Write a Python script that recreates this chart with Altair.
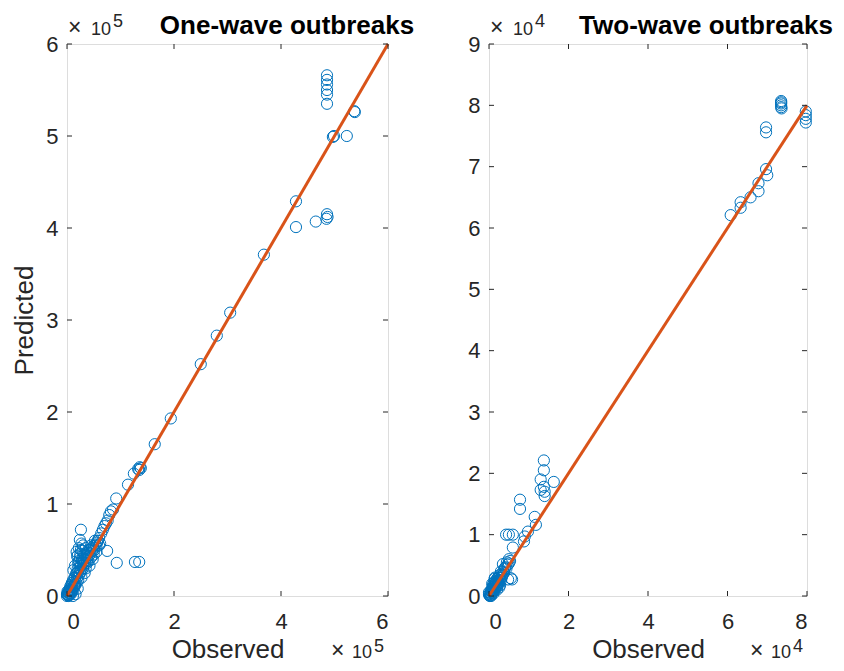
import altair as alt
import pandas as pd

# ---------------- data ----------------
# One-wave outbreaks, values in units of 1e5
one_obs = [4.86, 4.86, 4.86, 4.86, 4.86, 4.86, 5.37, 5.38, 4.97, 4.99, 5.23,
           4.28, 4.28, 4.65, 4.86, 4.87, 4.85, 3.68, 3.05, 2.80, 2.50, 1.94, 1.64,
           1.33, 1.36, 1.38, 1.35, 1.25, 1.14, 0.92, 0.86, 0.82, 0.79, 0.76, 0.73,
           0.70, 0.67, 0.64, 0.60, 0.57, 0.75, 0.93, 1.27, 1.35,
           0.26, 0.24, 0.26, 0.30, 0.35, 0.40, 0.32, 0.28, 0.22, 0.25, 0.30, 0.20,
           0.25, 0.18, 0.15, 0.22, 0.12, 0.10, 0.08, 0.05, 0.03, 0.02, 0.01, 0.00,
           0.04, 0.06, 0.14, 0.18, 0.35, 0.40, 0.45, 0.50, 0.45, 0.50, 0.55, 0.38,
           0.30, 0.33, 0.42, 0.48, 0.16, 0.20, 0.09, 0.27, 0.55, 0.60, 0.24, 0.20,
           0.15, 0.07, 0.12, 0.34, 0.38, 0.62, 0.52,
           0.02, 0.03, 0.05, 0.06, 0.08, 0.09, 0.10, 0.11, 0.13, 0.14, 0.16, 0.17,
           0.19, 0.20, 0.21, 0.23, 0.24, 0.26, 0.27, 0.29, 0.31, 0.32, 0.34, 0.36,
           0.37, 0.39, 0.41, 0.43, 0.44, 0.46, 0.47, 0.49, 0.51, 0.53, 0.56, 0.58,
           0.18, 0.22, 0.27, 0.19, 0.25, 0.15, 0.12, 0.29, 0.21, 0.01, 0.00, 0.03,
           0.11, 0.07]
one_pred = [5.66, 5.61, 5.56, 5.50, 5.45, 5.35, 5.27, 5.26, 4.99, 5.00, 5.00,
            4.29, 4.01, 4.07, 4.15, 4.12, 4.10, 3.71, 3.08, 2.83, 2.52, 1.93, 1.65,
            1.38, 1.40, 1.39, 1.37, 1.33, 1.21, 1.06, 0.94, 0.92, 0.88, 0.82, 0.79,
            0.76, 0.72, 0.68, 0.63, 0.60, 0.49, 0.36, 0.37, 0.37,
            0.72, 0.61, 0.50, 0.55, 0.52, 0.50, 0.45, 0.40, 0.38, 0.35, 0.36, 0.30,
            0.28, 0.25, 0.20, 0.22, 0.15, 0.10, 0.12, 0.06, 0.03, 0.01, 0.02, 0.00,
            0.01, 0.08, 0.10, 0.14, 0.30, 0.38, 0.42, 0.45, 0.55, 0.52, 0.55, 0.42,
            0.30, 0.25, 0.33, 0.40, 0.02, 0.08, 0.05, 0.20, 0.48, 0.55, 0.42, 0.44,
            0.12, 0.03, 0.06, 0.45, 0.36, 0.57, 0.60,
            0.04, 0.06, 0.03, 0.10, 0.06, 0.14, 0.07, 0.17, 0.11, 0.20, 0.15, 0.24,
            0.20, 0.26, 0.17, 0.30, 0.25, 0.33, 0.27, 0.38, 0.33, 0.40, 0.36, 0.44,
            0.39, 0.47, 0.44, 0.50, 0.46, 0.52, 0.49, 0.54, 0.50, 0.56, 0.58, 0.60,
            0.48, 0.52, 0.57, 0.43, 0.46, 0.33, 0.28, 0.49, 0.36, 0.05, 0.02, 0.00,
            0.00, 0.02]

# Two-wave outbreaks, values in units of 1e4
two_obs = [7.35, 7.35, 7.35, 7.35, 7.35, 7.36, 7.97, 7.97, 7.97, 7.97, 6.97, 6.97,
           6.97, 7.00, 6.78, 6.78, 6.58, 6.33, 6.33, 6.08,
           1.38, 1.38, 1.30, 1.63, 1.38, 1.30, 1.40, 1.40, 0.78, 0.78, 1.15, 1.18,
           0.98, 0.90, 0.88, 0.43, 0.50, 0.60, 0.60, 0.50, 0.55, 0.58, 0.48, 0.35,
           0.45, 0.40, 0.30, 0.35, 0.25, 0.30, 0.20, 0.15, 0.20, 0.25, 0.10, 0.12,
           0.05, 0.08, 0.02, 0.00, 0.04, 0.15, 0.18, 0.22, 0.10, 0.06, 0.28, 0.32,
           0.12, 0.14, 0.07,
           0.01, 0.03, 0.04, 0.06, 0.07, 0.09, 0.10, 0.11, 0.13, 0.14, 0.16, 0.17,
           0.19, 0.21, 0.23, 0.24, 0.26, 0.27, 0.29, 0.31, 0.33, 0.36, 0.38, 0.41,
           0.44, 0.47, 0.50, 0.53, 0.15, 0.08, 0.20, 0.26, 0.00, 0.05]
two_pred = [8.07, 8.05, 8.03, 8.00, 7.97, 7.95, 7.90, 7.84, 7.78, 7.72, 7.64, 7.56,
            6.96, 6.86, 6.73, 6.60, 6.50, 6.42, 6.33, 6.21,
            2.21, 2.05, 1.90, 1.86, 1.78, 1.73, 1.70, 1.63, 1.57, 1.42, 1.29, 1.16,
            1.05, 0.97, 0.89, 1.00, 1.00, 1.00, 0.79, 0.60, 0.29, 0.27, 0.27, 0.52,
            0.55, 0.45, 0.40, 0.35, 0.30, 0.25, 0.28, 0.20, 0.15, 0.20, 0.12, 0.08,
            0.05, 0.10, 0.00, 0.02, 0.08, 0.10, 0.22, 0.18, 0.18, 0.02, 0.18, 0.30,
            0.22, 0.28, 0.06,
            0.03, 0.01, 0.04, 0.08, 0.12, 0.07, 0.15, 0.04, 0.16, 0.12, 0.24, 0.15,
            0.19, 0.25, 0.22, 0.30, 0.26, 0.34, 0.29, 0.36, 0.33, 0.40, 0.38, 0.47,
            0.45, 0.51, 0.53, 0.57, 0.30, 0.20, 0.10, 0.14, 0.06, 0.00]

one_ref = [0, 6]
two_ref = [0, 8]
one_xticks = [0, 2, 4, 6]
one_yticks = [0, 1, 2, 3, 4, 5, 6]
two_xticks = [0, 2, 4, 6, 8]
two_yticks = [0, 1, 2, 3, 4, 5, 6, 7, 8, 9]

titles = ["One-wave outbreaks", "Two-wave outbreaks"]
exponents = ["5", "4"]

# ---------------- style ----------------
BLUE = "#0072BD"
ORANGE = "#D95319"
AX = "#262626"
FONT = "Liberation Sans"
H = 552


def txt(s, x, y, size, align="left", weight="normal", color=AX):
    return alt.Chart(pd.DataFrame({"t": [s]})).mark_text(
        font=FONT, fontSize=size, fontWeight=weight, color=color,
        align=align, baseline="alphabetic", clip=False
    ).encode(x=alt.value(x), y=alt.value(y), text="t:N")


def panel(obs, pred, ref, xticks, yticks, xmax, ymax, W, title, tx, exp, ytitle):
    xs = alt.Scale(domain=[0, xmax], nice=False, zero=False)
    ys = alt.Scale(domain=[0, ymax], nice=False, zero=False)
    xaxis = alt.Axis(values=xticks, format="d", title="Observed", grid=False,
                     domain=False, ticks=False, labelFont=FONT, labelFontSize=22,
                     labelColor=AX, labelPadding=15, titleFont=FONT,
                     titleFontSize=26, titleFontWeight="normal", titleColor=AX,
                     titlePadding=4)
    yaxis_kw = dict(values=yticks, format="d", grid=False, domain=False,
                    ticks=False, labelFont=FONT, labelFontSize=22, labelColor=AX,
                    labelPadding=9, titleFont=FONT, titleFontSize=26,
                    titleFontWeight="normal", titleColor=AX, titlePadding=8)
    if ytitle:
        yaxis = alt.Axis(title=ytitle, **yaxis_kw)
    else:
        yaxis = alt.Axis(title=None, **yaxis_kw)

    pts = alt.Chart(pd.DataFrame({"obs": obs, "pred": pred})).mark_point(
        shape="circle", filled=False, size=125, color=BLUE, strokeWidth=1,
        opacity=1, clip=False
    ).encode(x=alt.X("obs:Q", scale=xs, axis=xaxis),
             y=alt.Y("pred:Q", scale=ys, axis=yaxis))

    line = alt.Chart(pd.DataFrame({"obs": ref, "pred": ref})).mark_line(
        color=ORANGE, strokeWidth=3
    ).encode(x="obs:Q", y="pred:Q")

    xt = pd.DataFrame({"obs": xticks})
    yt = pd.DataFrame({"pred": yticks})
    tick_style = dict(color=AX, strokeWidth=1)
    tb = alt.Chart(xt).mark_rule(**tick_style).encode(
        x="obs:Q", y=alt.value(H), y2=alt.value(H - 5))
    tt = alt.Chart(xt).mark_rule(**tick_style).encode(
        x="obs:Q", y=alt.value(0), y2=alt.value(5))
    tl = alt.Chart(yt).mark_rule(**tick_style).encode(
        y="pred:Q", x=alt.value(0), x2=alt.value(5))
    tr = alt.Chart(yt).mark_rule(**tick_style).encode(
        y="pred:Q", x=alt.value(W - 5), x2=alt.value(W))

    ttl = txt(title, tx, -10, 26, align="center", weight="bold", color="black")
    e1 = txt("×", 1, -9, 23)
    e2 = txt("10", 44, -9, 18, align="right")
    e3 = txt(exp, 46, -17, 18)
    b1 = txt("×", W - 57, H + 62, 23)
    b2 = txt("10", W - 16, H + 62, 18, align="right")
    b3 = txt(exp, W - 14, H + 56, 18)

    return alt.layer(pts, line, tb, tt, tl, tr, ttl, e1, e2, e3, b1, b2, b3).properties(
        width=W, height=H)


left = panel(one_obs, one_pred, one_ref, one_xticks, one_yticks, 6, 6, 321,
             titles[0], 220, exponents[0], "Predicted")
right = panel(two_obs, two_pred, two_ref, two_xticks, two_yticks, 8, 9, 318,
              titles[1], 217, exponents[1], None)

chart = alt.hconcat(left, right, spacing=101, bounds="flush").properties(
    padding={"left": 3, "top": 4, "right": 0, "bottom": 0}
).configure_view(
    stroke=AX, strokeWidth=1
).configure(background="white")

chart.save("out.html", embed_options={"renderer": "svg", "actions": False})
